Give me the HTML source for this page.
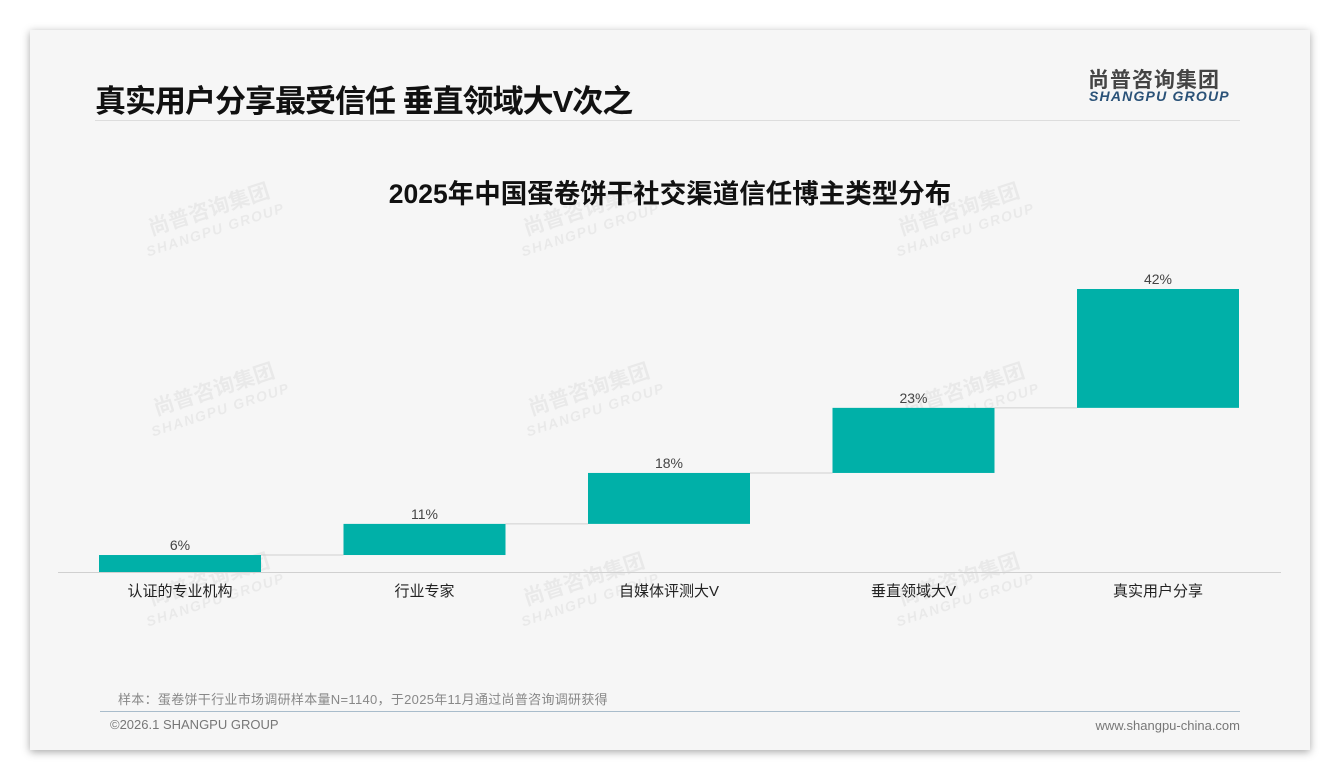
<!DOCTYPE html>
<html><head><meta charset="utf-8"><style>
body{margin:0;width:1340px;height:780px;background:#fff;overflow:hidden;font-family:"Liberation Sans","Noto Sans CJK SC",sans-serif;position:relative}
.card{position:absolute;left:30px;top:30px;width:1280px;height:720px;background:#f6f6f6;box-shadow:0 2px 8px rgba(0,0,0,.35)}
.abs{position:absolute;white-space:nowrap}
.wm{position:absolute;color:rgba(0,0,0,.05);font-weight:bold;transform:rotate(-18deg);line-height:20px;text-align:center}
</style></head><body>
<div class="card"></div>
<div class="abs" style="left:95px;top:76px;font-size:31px;font-weight:bold;color:#111;letter-spacing:-1px">真实用户分享最受信任 垂直领域大V次之</div>
<div class="abs" style="left:1088px;top:64px;font-size:21px;font-weight:bold;color:#444;letter-spacing:1px">尚普咨询集团</div>
<div class="abs" style="left:1089px;top:88px;font-size:14px;font-weight:bold;font-style:italic;color:#2a5278;letter-spacing:1.2px">SHANGPU GROUP</div>
<div class="abs" style="left:95px;top:120px;width:1145px;height:1px;background:#ddd"></div>
<div class="abs" style="left:0;width:1340px;text-align:center;top:172px;font-size:26.5px;font-weight:bold;color:#111">2025年中国蛋卷饼干社交渠道信任博主类型分布</div>
<div id="wms"></div>
<svg id="chart" class="abs" style="left:0;top:0" width="1340" height="780"></svg>
<div class="abs" style="left:118px;top:689px;font-size:13px;color:#888;letter-spacing:0.3px">样本：蛋卷饼干行业市场调研样本量N=1140，于2025年11月通过尚普咨询调研获得</div>
<div class="abs" style="left:100px;top:711px;width:1140px;height:1px;background:#a9bccb"></div>
<div class="abs" style="left:110px;top:717px;font-size:13px;color:#777">©2026.1 SHANGPU GROUP</div>
<div class="abs" style="right:100px;top:718px;font-size:13px;color:#777">www.shangpu-china.com</div>
<script>
const categories=["认证的专业机构","行业专家","自媒体评测大V","垂直领域大V","真实用户分享"];
const values=[6,11,18,23,42];
const labels=["6%","11%","18%","23%","42%"];
const NS="http://www.w3.org/2000/svg";
const svg=document.getElementById('chart');
const baseY=572,pxPer=2.83,x0=99,step=244.5,bw=162;
const y=v=>baseY-v*pxPer;
function mk(t,a){const e=document.createElementNS(NS,t);for(const k in a)e.setAttribute(k,a[k]);svg.appendChild(e);return e;}
let cum=0;
values.forEach((v,i)=>{
  const x=x0+i*step;const top=y(cum+v),bot=y(cum);
  const r=mk('rect',{x:x,y:top,width:bw,height:bot-top,fill:'#00b0a8'});
  
  
  if(i<values.length-1){const l=mk('line',{x1:x+bw,x2:x+step,y1:top,y2:top,stroke:'#d0d0d0','stroke-width':1});
    
    }
  const t=mk('text',{x:x+bw/2,y:top-5,'text-anchor':'middle','font-size':14,fill:'#444'});t.textContent=labels[i];
  
  
  const c=mk('text',{x:x+bw/2,y:596,'text-anchor':'middle','font-size':15,fill:'#222'});c.textContent=categories[i];
  
  
  cum+=v;
});
const ax=mk('line',{x1:58,x2:1281,y1:572.5,y2:572.5,stroke:'#d0d0d0','stroke-width':1});


const wm=document.getElementById('wms');
[[140,200],[515,200],[890,200],[145,380],[520,380],[895,380],[140,570],[515,570],[890,570]].forEach(p=>{
  const d=document.createElement('div');d.className='wm';d.style.left=p[0]+'px';d.style.top=p[1]+'px';
  d.innerHTML='<div style="font-size:21px">尚普咨询集团</div><div style="font-size:14px;font-style:italic;letter-spacing:1.5px">SHANGPU GROUP</div>';
  
  
  wm.appendChild(d);
});
</script>
</body></html>
